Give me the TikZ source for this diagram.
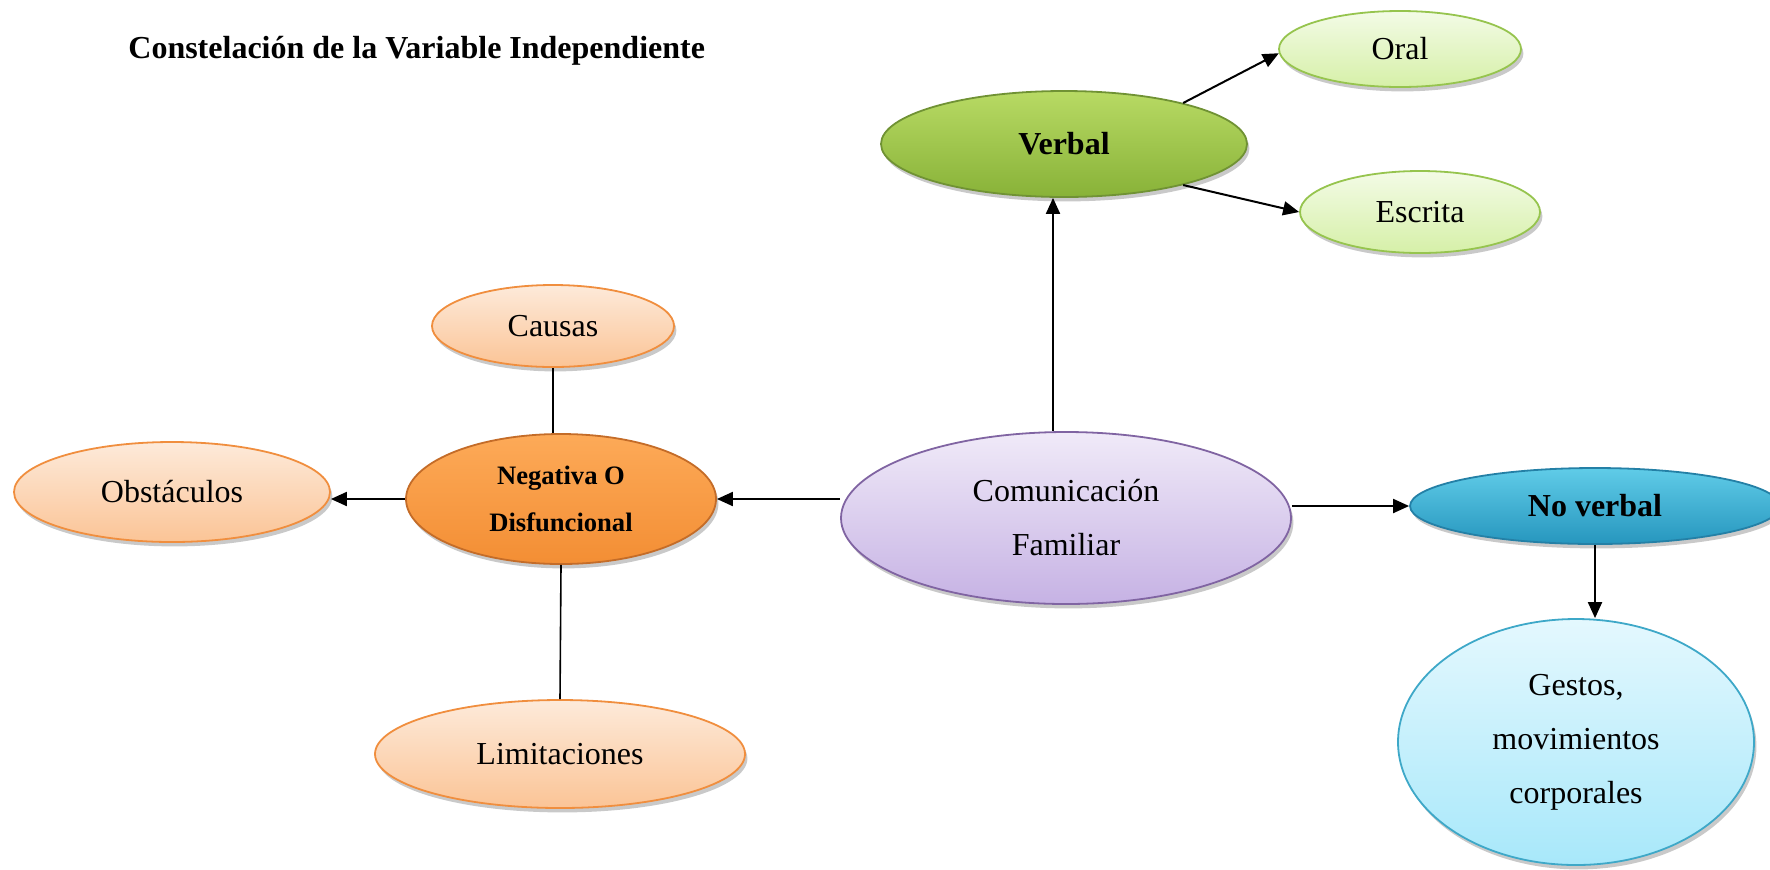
\documentclass[tikz,border=0pt]{standalone}
\usepackage{fontspec}
\setmainfont{Liberation Serif}
\usetikzlibrary{shapes.geometric,arrows.meta,shadows,calc}
\definecolor{vTop}{RGB}{184,218,100}
\definecolor{vBot}{RGB}{136,178,56}
\definecolor{vBord}{RGB}{112,146,52}
\definecolor{lgTop}{RGB}{243,251,230}
\definecolor{lgBot}{RGB}{214,240,168}
\definecolor{lgBord}{RGB}{150,196,78}
\definecolor{cTop}{RGB}{240,234,248}
\definecolor{cBot}{RGB}{198,178,228}
\definecolor{cBord}{RGB}{128,100,162}
\definecolor{nTop}{RGB}{253,170,88}
\definecolor{nBot}{RGB}{243,142,52}
\definecolor{nBord}{RGB}{196,108,40}
\definecolor{pTop}{RGB}{253,234,218}
\definecolor{pBot}{RGB}{251,196,150}
\definecolor{pBord}{RGB}{240,142,62}
\definecolor{bTop}{RGB}{96,204,232}
\definecolor{bBot}{RGB}{38,150,190}
\definecolor{bBord}{RGB}{36,128,166}
\definecolor{gTop}{RGB}{228,248,254}
\definecolor{gBot}{RGB}{168,232,250}
\definecolor{gBord}{RGB}{62,168,200}
\begin{document}
\begin{tikzpicture}[x=0.5pt,y=-0.5pt,
  bub/.style={ellipse, inner sep=0pt, draw, line width=0.9pt, align=center,
    drop shadow={shadow xshift=1.2pt,shadow yshift=-2.2pt,opacity=0.3,fill=black!70},
    font=\fontsize{16}{27}\selectfont},
  greenbig/.style={bub, top color=vTop, bottom color=vBot, draw=vBord, font=\fontsize{16}{27}\selectfont\bfseries},
  greensmall/.style={bub, top color=lgTop, bottom color=lgBot, draw=lgBord},
  lilac/.style={bub, top color=cTop, bottom color=cBot, draw=cBord},
  orangebig/.style={bub, top color=nTop, bottom color=nBot, draw=nBord, font=\fontsize{13.3}{23.5}\selectfont\bfseries},
  peach/.style={bub, top color=pTop, bottom color=pBot, draw=pBord},
  bluebig/.style={bub, top color=bTop, bottom color=bBot, draw=bBord, font=\fontsize{16}{27}\selectfont\bfseries},
  bluelight/.style={bub, top color=gTop, bottom color=gBot, draw=gBord},
  arr/.style={-{Triangle[length=8pt,width=7pt]}, line width=1pt, black},
  link/.style={line width=0.8pt, black},
  titletext/.style={anchor=west, inner sep=0pt, font=\fontsize{16}{20}\selectfont\bfseries}
]
\useasboundingbox (0,0) rectangle (1770,869);
\node[titletext] (title) at (128,51) {Constelación de la Variable Independiente};

\node[greensmall, minimum width=121pt, minimum height=38pt] (oral) at (1400,49) {Oral};
\node[greenbig, minimum width=183pt, minimum height=53pt] (verbal) at (1064,144) {Verbal};
\node[greensmall, minimum width=120pt, minimum height=41pt] (escrita) at (1420,212) {Escrita};

\node[peach, minimum width=121pt, minimum height=41pt] (causas) at (553,326) {Causas};
\node[peach, minimum width=158pt, minimum height=50pt] (obst) at (172,492) {Obstáculos};
\node[orangebig, minimum width=155pt, minimum height=65pt] (neg) at (561,499) {Negativa O\\Disfuncional};
\node[peach, minimum width=185pt, minimum height=54pt] (limit) at (560,754) {Limitaciones};

\node[lilac, minimum width=225pt, minimum height=86pt] (comm) at (1066,518) {Comunicación\\Familiar};

\node[bluebig, minimum width=185pt, minimum height=38pt] (nov) at (1595,506) {No verbal};
\node[bluelight, minimum width=178pt, minimum height=123pt] (gestos) at (1576,742) {Gestos,\\movimientos\\corporales};

% connectors
\draw[arr] ([xshift=-6.5pt]comm.north) -- ([xshift=-6.5pt]comm.north |- verbal.south);
\draw[arr] (verbal.19) -- (oral.182);
\draw[arr] (verbal.-19) -- (escrita.west);
\draw[arr] (comm.west |- neg.east) -- (neg.east);
\draw[arr] (neg.west) -- (neg.west -| obst.east);
\draw[link] (causas.south) -- (causas.south |- neg.north);
\draw[link] (neg.south) -- (limit.north);
\draw[arr] (comm.east |- nov.west) -- (nov.west);
\draw[arr] (nov.south) -- (nov.south |- gestos.north);
\end{tikzpicture}
\end{document}
